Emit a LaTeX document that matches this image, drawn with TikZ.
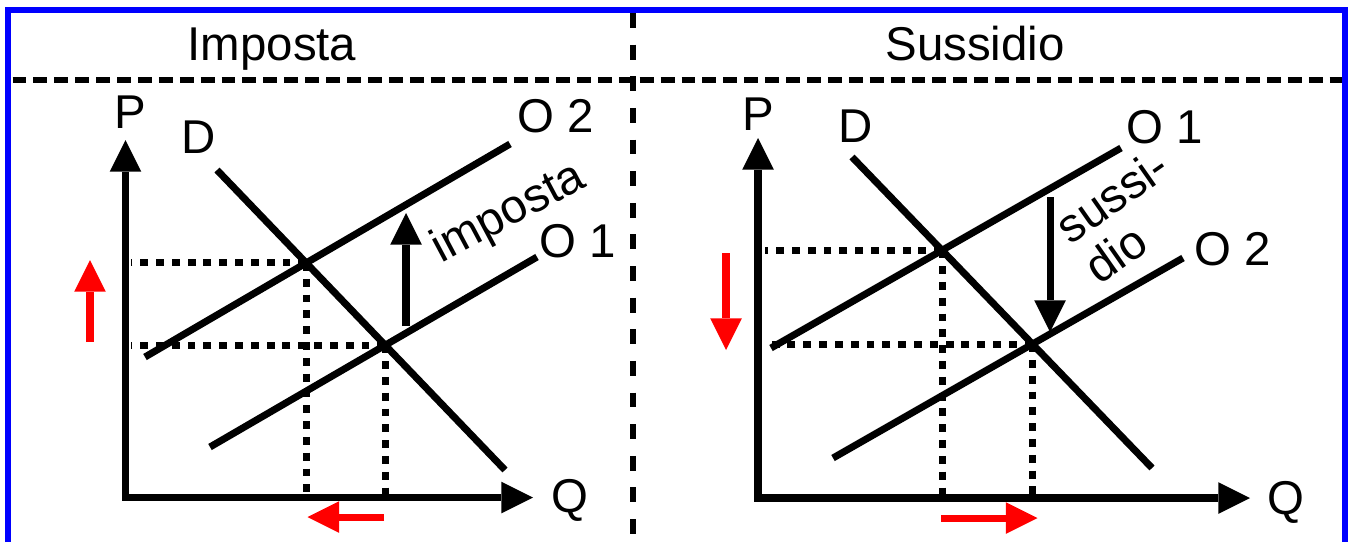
\documentclass[tikz,border=0pt]{standalone}
\usepackage{fontspec}
\setmainfont{Liberation Sans}
\usetikzlibrary{arrows.meta}

\begin{document}
\begin{tikzpicture}[x=0.02cm, y=-0.02cm,
	every node/.style={font=\fontsize{27}{28}\selectfont, inner sep=0pt},
	tip/.style={-{Triangle[length=18pt, width=18pt, line width=0pt]}},
	axis/.style={line width=4pt, {Triangle[length=18pt, width=18pt, line width=0pt]}-{Triangle[length=18pt, width=18pt, line width=0pt]}},
	curve/.style={line width=4pt},
	guide/.style={line width=4pt, dash pattern=on 4.5pt off 4.5pt},
	shiftarrow/.style={tip, line width=4pt, red}]

	\useasboundingbox (0,0) rectangle (1351,542);

	\draw[blue, line width=3.4pt] (8,542) -- (8,10) -- (1345,10) -- (1345,542);
	\draw[line width=3pt, dash pattern=on 7.9pt off 4pt] (12.5,80) -- (1342,80);
	\draw[line width=3.4pt, dash pattern=on 8.5pt off 9.5pt] (633,13) -- (633,542);
	\node[anchor=base] (titleL) at (272,60) {Imposta};
	\node[anchor=base] (titleR) at (975,60) {Sussidio};

	% imposta
	\coordinate (oL) at (125.5,497.5);
	\coordinate (pL) at (125.5,140);
	\coordinate (qL) at (533,497.5);
	\coordinate (gL) at (131,497.5);
	\coordinate (dL1) at (217,170);
	\coordinate (dL2) at (505,470);
	\coordinate (aL1) at (210,447);
	\coordinate (aL2) at (537,257);
	\coordinate (bL1) at (145,357);
	\coordinate (bL2) at (510,144);
	\coordinate (eL1) at (intersection of dL1--dL2 and aL1--aL2);
	\coordinate (eL2) at (intersection of dL1--dL2 and bL1--bL2);
	\foreach \e in {eL1,eL2}{
		\draw[guide] (\e) -- (\e -| gL);
		\draw[guide] (\e) -- (\e |- oL);
	}
	\draw[axis] (pL) |- (qL);
	\draw[curve] (dL1) -- (dL2);
	\draw[curve] (aL1) -- (aL2);
	\draw[curve] (bL1) -- (bL2);
	\node[anchor=base] (PL) at (130,128) {P};
	\node[anchor=base] (QL) at (570,512) {Q};
	\node[anchor=base] (DL) at (199,153) {D};
	\node[anchor=base] (O2L) at (556,132) {O 2};
	\node[anchor=base] (O1L) at (578,257) {O 1};
	\coordinate (tA) at (406,326);
	\coordinate (tB) at (406,213);
	\draw[tip, line width=4pt] (tA) -- (tB);
	\node[rotate=28] (taxL) at (509,214) {imposta};
	\coordinate (ruA) at (90,342);
	\coordinate (ruB) at (90,260);
	\draw[shiftarrow] (ruA) -- (ruB);
	\coordinate (rlA) at (384,517);
	\coordinate (rlB) at (307.5,517);
	\draw[shiftarrow] (rlA) -- (rlB);

	% sussidio
	\coordinate (oR) at (758,498);
	\coordinate (pR) at (758,138);
	\coordinate (qR) at (1250,498);
	\coordinate (gR) at (765,498);
	\coordinate (dR1) at (852,157);
	\coordinate (dR2) at (1152,468);
	\coordinate (aR1) at (771,348);
	\coordinate (aR2) at (1121,148);
	\coordinate (bR1) at (833,458);
	\coordinate (bR2) at (1183,258);
	\coordinate (eR1) at (intersection of dR1--dR2 and aR1--aR2);
	\coordinate (eR2) at (intersection of dR1--dR2 and bR1--bR2);
	\foreach \e in {eR1,eR2}{
		\draw[guide] (\e) -- (\e -| gR);
		\draw[guide] (\e) -- (\e |- oR);
	}
	\draw[axis] (pR) |- (qR);
	\draw[curve] (dR1) -- (dR2);
	\draw[curve] (aR1) -- (aR2);
	\draw[curve] (bR1) -- (bR2);
	\node[anchor=base] (PR) at (758,130) {P};
	\node[anchor=base] (QR) at (1286,514) {Q};
	\node[anchor=base] (DR) at (856,142) {D};
	\node[anchor=base] (O1R) at (1165,143) {O 1};
	\node[anchor=base] (O2R) at (1233,265) {O 2};
	\coordinate (sA) at (1050,197);
	\coordinate (sB) at (1050,332);
	\draw[tip, line width=4pt] (sA) -- (sB);
	\node[rotate=35, align=left] (subR) at (1126,216) {sussi-\\dio};
	\coordinate (rdA) at (726,253);
	\coordinate (rdB) at (726,350);
	\draw[shiftarrow] (rdA) -- (rdB);
	\coordinate (rrA) at (941,518);
	\coordinate (rrB) at (1037.5,518);
	\draw[shiftarrow] (rrA) -- (rrB);

\end{tikzpicture}
\end{document}
